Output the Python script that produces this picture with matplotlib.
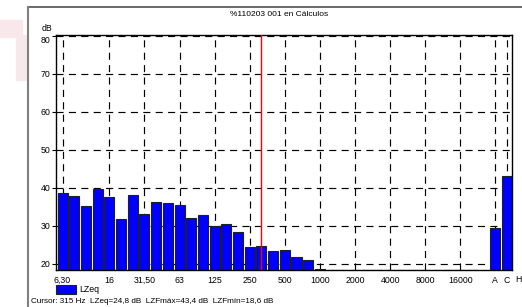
"""Espectro de tercios de octava LZeq con cursor en 315 Hz."""

import numpy as np
import matplotlib
matplotlib.use('Agg')
import matplotlib.pyplot as plt
from matplotlib.patches import Rectangle
from matplotlib.lines import Line2D

plt.rcParams['font.family'] = ['Liberation Sans', 'DejaVu Sans']

# bandas de tercio de octava (Hz)
bands = ['6,30', '8', '10', '12,5', '16', '20', '25', '31,50', '40', '50',
         '63', '80', '100', '125', '160', '200', '250', '315', '400', '500',
         '630', '800', '1000', '1250', '1600', '2000', '2500', '3150', '4000',
         '5000', '6300', '8000', '10000', '12500', '16000', '20000']
lzeq = [38.7, 37.8, 35.2, 39.7, 37.6, 31.8, 38.1, 33.0, 36.3, 36.1,
        35.4, 32.2, 32.9, 30.0, 30.4, 28.3, 24.5, 24.8, 23.5, 23.7,
        21.9, 20.9, 18.7, 18.5, 18.5, 18.5, 18.5, 18.5, 18.5,
        18.5, 18.5, 18.5, 18.5, 18.5, 18.5, 18.5]
# globales ponderados
wb_labels = ['A', 'C', 'H']
wb_values = [29.4, 43.2, 0.0]

tick_labels = ['6,30', '16', '31,50', '63', '125', '250', '500', '1000',
               '2000', '4000', '8000', '16000']
yticks = [20, 30, 40, 50, 60, 70, 80]
cursor_band = '315'

title = '%110203 001 en Cálculos'
cursor_text = 'Cursor: 315 Hz  LZeq=24,8 dB  LZFmáx=43,4 dB  LZFmín=18,6 dB'


def main():
    W, H = 522, 307
    fig = plt.figure(figsize=(W / 100, H / 100), dpi=100)
    fig.patch.set_facecolor('white')

    # logo de fondo (marca de agua)
    pink = '#f8e8ec'
    fig.patches.append(Rectangle((0 / W, 1 - 37 / H), 22 / W, 17 / H,
                                 transform=fig.transFigure, color=pink, zorder=0))
    fig.patches.append(Rectangle((16 / W, 1 - 80 / H), 10 / W, 45 / H,
                                 transform=fig.transFigure, color=pink, zorder=0))

    # marco del panel
    fig.lines.append(Line2D([28 / W, 1], [1 - 7 / H, 1 - 7 / H],
                            transform=fig.transFigure, color='#505050', lw=1.2))
    fig.lines.append(Line2D([28 / W, 28 / W], [0, 1 - 7 / H],
                            transform=fig.transFigure, color='#808080', lw=1.5))

    ax = fig.add_axes([56 / W, 1 - 270 / H, 456 / W, 235 / H])

    band_x = np.arange(len(bands))
    wb_x = len(bands) + 1 + np.arange(len(wb_labels))

    ax.bar(band_x, lzeq, width=0.86, color='#0000ff', edgecolor='#202020',
           linewidth=0.8, zorder=2)
    ax.bar(wb_x, wb_values, width=0.86, color='#0000ff', edgecolor='#202020',
           linewidth=0.8, zorder=2)

    ax.set_xlim(-0.56, 38.42)
    ax.set_ylim(18.4, 80.2)

    xt = [bands.index(t) for t in tick_labels] + list(wb_x[:2])
    ax.set_xticks(xt)
    ax.set_xticklabels(tick_labels + wb_labels[:2], fontsize=6.3)
    ax.tick_params(axis='x', length=0, pad=4)
    ax.text(wb_x[2], -0.022, wb_labels[2], transform=ax.get_xaxis_transform(),
            ha='center', va='top', fontsize=6.3, clip_on=False)

    ax.set_yticks(yticks)
    ax.set_yticklabels([str(v) for v in yticks], fontsize=6.3)
    ax.tick_params(axis='y', direction='out', length=3, pad=1, width=0.8)
    ax.get_yticklabels()[-1].set_va('top')
    ax.text(-0.008, 1.01, 'dB', transform=ax.transAxes, ha='right',
            va='bottom', fontsize=6.3)

    ax.grid(True, color='black', linewidth=0.85, linestyle=(0, (6, 4.5)))
    ax.set_axisbelow(True)
    for s in ax.spines.values():
        s.set_linewidth(1.0)

    ax.axvline(bands.index(cursor_band), color='#ff0000', lw=1.0, zorder=3)

    fig.text(279 / W, 1 - 14 / H, title, ha='center', va='center', fontsize=6)

    # leyenda
    fig.patches.append(Rectangle((56 / W, 1 - 294 / H), 20 / W, 9 / H,
                                 transform=fig.transFigure, facecolor='#0000ff',
                                 edgecolor='#202020', lw=0.8))
    fig.text(79 / W, 1 - 289.5 / H, 'LZeq', ha='left', va='center', fontsize=6.3)

    fig.text(31 / W, 1 - 301.5 / H, cursor_text, ha='left', va='center',
             fontsize=5.9)

    fig.savefig('out.png', dpi=100)
    plt.close(fig)


if __name__ == '__main__':
    main()
